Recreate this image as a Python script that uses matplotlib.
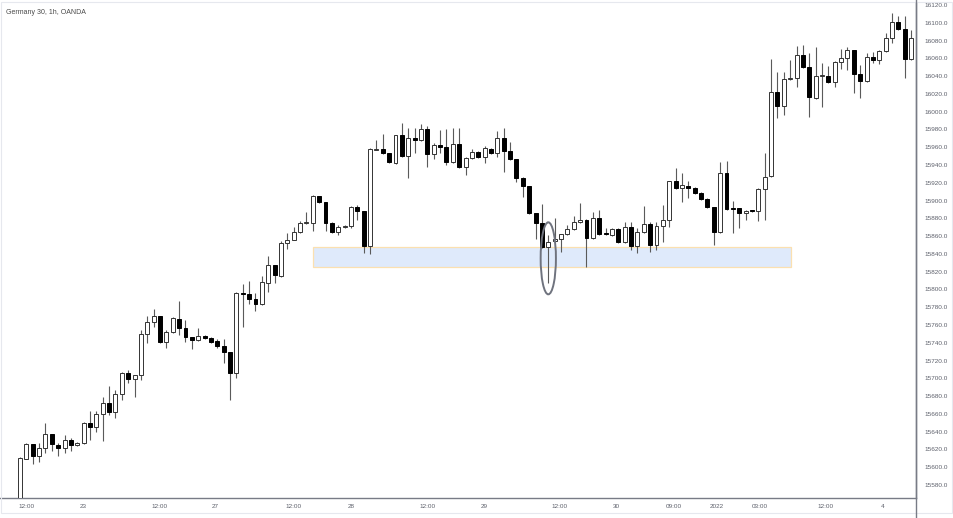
import matplotlib
matplotlib.use('Agg')
import matplotlib.pyplot as plt
from matplotlib.patches import Rectangle, Ellipse
from matplotlib.lines import Line2D

plt.rcParams['font.family'] = ['Liberation Sans', 'DejaVu Sans']

# ---- data (hourly candles, Germany 30) ----
opens = [15552, 15609, 15626, 15613, 15622, 15637, 15625, 15622, 15631, 15625,
         15627, 15650, 15645, 15660, 15672, 15662, 15682, 15706, 15699, 15704,
         15750, 15763, 15770, 15741, 15752, 15767, 15757, 15746, 15743, 15748,
         15745, 15742, 15736, 15730, 15706, 15796, 15795, 15789, 15784, 15807,
         15827, 15815, 15852, 15856, 15865, 15875, 15875, 15905, 15898, 15875,
         15865, 15870, 15871, 15893, 15888, 15849, 15957, 15958, 15953, 15942,
         15974, 15950, 15970, 15968, 15980, 15952, 15962, 15960, 15943, 15964,
         15938, 15948, 15955, 15949, 15958, 15953, 15970, 15956, 15947, 15925,
         15916, 15886, 15875, 15848, 15854, 15857, 15862, 15868, 15876, 15878,
         15858, 15880, 15863, 15861, 15868, 15853, 15870, 15849, 15865, 15874,
         15850, 15871, 15878, 15922, 15914, 15916, 15914, 15908, 15902, 15893,
         15865, 15931, 15892, 15892, 15886, 15889, 15888, 15913, 15928, 16022,
         16006, 16037, 16038, 16064, 16050, 16015, 16040, 16040, 16033, 16056,
         16060, 16069, 16042, 16034, 16061, 16058, 16068, 16083, 16101, 16093,
         16059]
closes = [15610, 15626, 15613, 15622, 15637, 15626, 15622, 15631, 15625, 15627,
          15650, 15645, 15660, 15672, 15662, 15682, 15706, 15699, 15704, 15750,
          15763, 15770, 15741, 15752, 15768, 15757, 15746, 15743, 15748, 15745,
          15741, 15736, 15730, 15706, 15796, 15795, 15789, 15784, 15808, 15827,
          15816, 15852, 15856, 15865, 15875, 15876, 15905, 15898, 15875, 15865,
          15870, 15871, 15893, 15888, 15849, 15958, 15958, 15953, 15943, 15974,
          15950, 15970, 15968, 15980, 15952, 15962, 15960, 15943, 15964, 15938,
          15948, 15955, 15949, 15959, 15953, 15970, 15956, 15947, 15925, 15916,
          15886, 15875, 15848, 15853, 15857, 15862, 15868, 15876, 15878, 15858,
          15880, 15862, 15862, 15868, 15853, 15870, 15849, 15865, 15874, 15850,
          15871, 15878, 15922, 15914, 15917, 15914, 15908, 15902, 15893, 15865,
          15931, 15890, 15891, 15886, 15888, 15888, 15913, 15926, 16022, 16006,
          16037, 16038, 16064, 16050, 16016, 16040, 16040, 16033, 16056, 16060,
          16069, 16042, 16034, 16061, 16058, 16068, 16083, 16101, 16093, 16059,
          16083]
highs = [15612, 15627, 15626, 15627, 15650, 15637, 15627, 15636, 15633, 15628,
         15651, 15663, 15663, 15679, 15691, 15687, 15707, 15709, 15704, 15754,
         15770, 15778, 15770, 15754, 15769, 15787, 15766, 15746, 15757, 15749,
         15746, 15744, 15744, 15730, 15797, 15806, 15809, 15796, 15815, 15838,
         15827, 15854, 15863, 15870, 15877, 15887, 15906, 15905, 15898, 15876,
         15872, 15872, 15894, 15895, 15888, 15959, 15968, 15975, 15953, 15974,
         15987, 15982, 15982, 15986, 15984, 15965, 15979, 15980, 15982, 15982,
         15949, 15958, 15956, 15961, 15959, 15978, 15982, 15966, 15947, 15926,
         15916, 15886, 15896, 15861, 15880, 15862, 15872, 15883, 15897, 15879,
         15887, 15889, 15869, 15869, 15869, 15876, 15876, 15869, 15894, 15876,
         15876, 15895, 15922, 15937, 15931, 15922, 15915, 15910, 15903, 15893,
         15943, 15944, 15899, 15892, 15889, 15889, 15914, 15953, 16059, 16045,
         16045, 16058, 16074, 16075, 16066, 16073, 16055, 16051, 16057, 16070,
         16073, 16069, 16052, 16066, 16067, 16069, 16088, 16111, 16108, 16108,
         16092]
lows = [15545, 15609, 15604, 15606, 15616, 15618, 15613, 15616, 15618, 15624,
        15626, 15631, 15640, 15630, 15659, 15655, 15676, 15695, 15679, 15698,
        15740, 15758, 15740, 15734, 15751, 15749, 15741, 15733, 15742, 15744,
        15740, 15734, 15717, 15676, 15700, 15758, 15784, 15776, 15782, 15797,
        15807, 15814, 15845, 15856, 15864, 15874, 15866, 15897, 15866, 15864,
        15861, 15869, 15869, 15878, 15841, 15840, 15957, 15952, 15942, 15941,
        15949, 15925, 15954, 15967, 15938, 15947, 15954, 15940, 15942, 15937,
        15929, 15947, 15948, 15942, 15952, 15949, 15932, 15946, 15921, 15904,
        15885, 15857, 15847, 15807, 15853, 15842, 15861, 15867, 15875, 15825,
        15857, 15861, 15861, 15860, 15852, 15852, 15844, 15841, 15864, 15842,
        15844, 15853, 15870, 15913, 15898, 15903, 15907, 15901, 15892, 15850,
        15864, 15889, 15864, 15869, 15878, 15887, 15877, 15878, 15926, 15993,
        15996, 16036, 16028, 16049, 15994, 16014, 16005, 16032, 16028, 16048,
        16047, 16021, 16015, 16033, 16055, 16054, 16067, 16077, 16092, 16038,
        16058]

time_tick_pos = [1, 10, 22, 30.6, 43, 52, 64, 73, 84.7, 93.7, 102.7, 109.5, 116.3, 126.5, 135.6]
time_tick_labels = ['12:00', '23', '12:00', '27', '12:00', '28', '12:00', '29',
                    '12:00', '30', '09:00', '2022', '03:00', '12:00', '4']
price_ticks = list(range(15580, 16121, 20))

# support zone and highlighted candle
zone_x = (46.0, 121.1)
zone_price = (15825, 15848)
circle_center = (83.0, 15835)
circle_size = (2.4, 81)

title = 'Germany 30, 1h, OANDA'

# ---- figure ----
W, H = 954, 518
fig = plt.figure(figsize=(W / 100, H / 100), dpi=100)
ax = fig.add_axes([0, 20 / H, 916 / W, 495 / H])
ax.set_xlim(-3.14, 140.77)
ax.set_ylim(15565.4, 16122.2)

xs = list(range(len(opens)))
ax.vlines(xs, lows, highs, color='#5a5a5a', lw=0.8, zorder=2)
for x, o, c in zip(xs, opens, closes):
    up = c >= o
    bottom = min(o, c)
    h = max(abs(c - o), 0.8)
    ax.bar(x, h, bottom=bottom, width=0.62,
           color='white' if up else 'black',
           edgecolor='#333333' if up else 'black', linewidth=0.7, zorder=3)

ax.add_patch(Rectangle((zone_x[0], zone_price[0]), zone_x[1] - zone_x[0],
                       zone_price[1] - zone_price[0], facecolor='#dfeafb',
                       edgecolor='#fbe0b0', linewidth=0.9, zorder=1))
ax.add_patch(Ellipse(circle_center, circle_size[0], circle_size[1], fill=False,
                     edgecolor='#6f737e', linewidth=1.4, zorder=5))

for s in ['top', 'left']:
    ax.spines[s].set_visible(False)
for s in ['right', 'bottom']:
    ax.spines[s].set_color('#787b86')
    ax.spines[s].set_linewidth(1.0)

ax.yaxis.tick_right()
ax.set_yticks(price_ticks)
ax.set_yticklabels([f'{p:.1f}' for p in price_ticks])
ax.set_xticks(time_tick_pos)
ax.set_xticklabels(time_tick_labels)
ax.tick_params(axis='y', length=0, pad=6, labelsize=4.6, labelcolor='#5d606b')
ax.tick_params(axis='x', length=0, pad=4, labelsize=4.6, labelcolor='#5d606b')

# extend price-axis line to figure bottom and top
fig.add_artist(Line2D([916.5 / W, 916.5 / W], [0, 1], transform=fig.transFigure,
                      color='#787b86', lw=1.0))
# faint outer frame
fig.add_artist(Rectangle((0.5 / W, 5 / H), 952 / W, 511 / H, transform=fig.transFigure,
                         fill=False, edgecolor='#e6e8ee', lw=0.8))

fig.text(6 / W, 1 - 12 / H, title, fontsize=5, color='#4a4a4a', va='center', ha='left')

fig.savefig('out.png', dpi=100)
